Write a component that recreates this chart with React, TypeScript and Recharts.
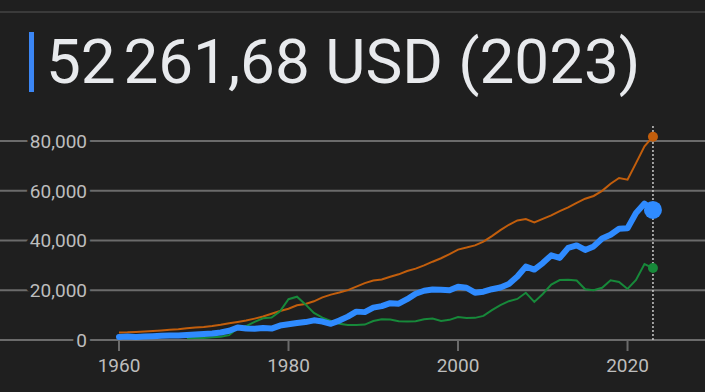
import { LineChart, Line, XAxis, YAxis, CartesianGrid, ReferenceLine, ReferenceDot } from "recharts"

const years = [
  1960, 1961, 1962, 1963, 1964, 1965, 1966, 1967, 1968, 1969,
  1970, 1971, 1972, 1973, 1974, 1975, 1976, 1977, 1978, 1979,
  1980, 1981, 1982, 1983, 1984, 1985, 1986, 1987, 1988, 1989,
  1990, 1991, 1992, 1993, 1994, 1995, 1996, 1997, 1998, 1999,
  2000, 2001, 2002, 2003, 2004, 2005, 2006, 2007, 2008, 2009,
  2010, 2011, 2012, 2013, 2014, 2015, 2016, 2017, 2018, 2019,
  2020, 2021, 2022, 2023,
]

// main series (thick blue)
const israel = [
  1250, 1400, 1250, 1400, 1550, 1750, 1800, 1800, 2000, 2200,
  2400, 2600, 3000, 3700, 5000, 4600, 4500, 4800, 4600, 5800,
  6300, 6800, 7200, 7900, 7400, 6500, 7800, 9400, 11400, 11200,
  13000, 13600, 14800, 14600, 16400, 18600, 19800, 20300, 20200, 20000,
  21400, 21000, 19000, 19400, 20400, 21100, 22500, 25500, 29500, 28300,
  30900, 34000, 33000, 37000, 38000, 36200, 37600, 40800, 42300, 44700,
  44900, 51000, 54800, 52261.68,
]

const usa = [
  3007, 3067, 3244, 3375, 3574, 3828, 4146, 4336, 4696, 5032,
  5234, 5609, 6094, 6726, 7226, 7801, 8592, 9453, 10565, 11674,
  12575, 13976, 14434, 15544, 17121, 18237, 19071, 20039, 21417, 22857,
  23889, 24342, 25419, 26387, 27695, 28691, 29968, 31459, 32854, 34515,
  36330, 37134, 38023, 39496, 41713, 44115, 46299, 48050, 48570, 47195,
  48651, 50066, 51784, 53291, 55124, 56763, 57867, 59915, 62805, 65095,
  64412, 71056, 77861, 81695,
]

const saudi = [
  null, null, null, null, null, null, null, null, 720, 760,
  830, 1100, 1350, 1950, 4800, 5600, 7300, 8700, 9000, 11500,
  16400, 17400, 14300, 10900, 9000, 7700, 6500, 6000, 6000, 6200,
  7600, 8300, 8200, 7500, 7400, 7500, 8300, 8600, 7600, 8100,
  9200, 8800, 8900, 9700, 12000, 14000, 15600, 16500, 19000, 15300,
  18500, 22300, 24100, 24200, 23900, 20400, 20000, 21000, 24000, 23300,
  20500, 24100, 30500, 28900,
]

const yTicks = [0, 20000, 40000, 60000, 80000]
const xTicks = [1960, 1980, 2000, 2020]
const title = "52\u202f261,68 USD (2023)"

const data = years.map((year, i) => ({ year, israel: israel[i], usa: usa[i], saudi: saudi[i] }))
const last = data[data.length - 1]

const BG = "#1f1f1f"
const BLUE = "#2f8bff"
const ORANGE = "#c25e0c"
const GREEN = "#17893a"
const GRID = "#6b6b6b"
const LABEL = "#bdbdbd"

function YTick({ y, payload }: any) {
  return (
    <text
      x={87}
      y={y}
      dy="0.36em"
      textAnchor="end"
      fill={LABEL}
      fontSize={19}
      fontFamily="Roboto"
      stroke={BG}
      strokeWidth={8}
      strokeLinejoin="round"
      paintOrder="stroke"
    >
      {Number(payload.value).toLocaleString("en-US")}
    </text>
  )
}

function XTick({ x, y, payload }: any) {
  return (
    <text x={x} y={y} dy="0.71em" textAnchor="middle" fill={LABEL} fontSize={19} fontFamily="Roboto">
      {payload.value}
    </text>
  )
}

export default function App() {
  return (
    <div style={{ position: "relative", width: 705, height: 392, background: BG, fontFamily: "Roboto", overflow: "hidden" }}>
      <style>{`body{margin:0;background:${BG}}`}</style>
      <div style={{ position: "absolute", left: 0, top: 11, width: 705, height: 2, background: "#3a3a3a" }} />
      <div style={{ position: "absolute", left: 29, top: 32, width: 5, height: 60, background: "#3b86f5" }} />
      <div
        style={{
          position: "absolute",
          left: 46,
          top: 30,
          fontSize: 62,
          lineHeight: "63px",
          color: "#e8eaed",
          whiteSpace: "nowrap",
        }}
      >
        {title}
      </div>
      <div style={{ position: "absolute", left: 0, top: 0 }}>
        <LineChart width={705} height={392} data={data} margin={{ top: 116, right: 0, bottom: 0, left: 0 }}>
          <CartesianGrid vertical={false} horizontalValues={yTicks} stroke={GRID} strokeWidth={2} />
          <XAxis
            dataKey="year"
            type="number"
            domain={[1945.96, 2029.14]}
            allowDataOverflow
            ticks={xTicks}
            height={52}
            axisLine={false}
            tickLine={{ stroke: GRID, strokeWidth: 2 }}
            tickSize={11}
            tickMargin={8}
            tick={<XTick />}
          />
          <YAxis
            type="number"
            domain={[0, 90000]}
            ticks={yTicks}
            mirror
            width={90}
            axisLine={false}
            tickLine={false}
            tick={<YTick />}
          />
          <ReferenceLine
            segment={[{ x: 2023, y: 0 }, { x: 2023, y: 86000 }]}
            stroke="#c8c8c8"
            strokeWidth={1.5}
            strokeDasharray="2 2"
          />
          <Line type="linear" dataKey="usa" stroke={ORANGE} strokeWidth={2} dot={false} isAnimationActive={false} />
          <Line type="linear" dataKey="saudi" stroke={GREEN} strokeWidth={2} dot={false} isAnimationActive={false} />
          <Line
            type="linear"
            dataKey="israel"
            stroke={BLUE}
            strokeWidth={6}
            strokeLinejoin="round"
            strokeLinecap="round"
            dot={false}
            isAnimationActive={false}
          />
          <ReferenceDot x={last.year} y={last.usa} r={5} fill={ORANGE} stroke="none" />
          <ReferenceDot x={last.year} y={last.saudi} r={5} fill={GREEN} stroke="none" />
          <ReferenceDot x={last.year} y={last.israel} r={9} fill={BLUE} stroke="none" />
        </LineChart>
      </div>
    </div>
  )
}
